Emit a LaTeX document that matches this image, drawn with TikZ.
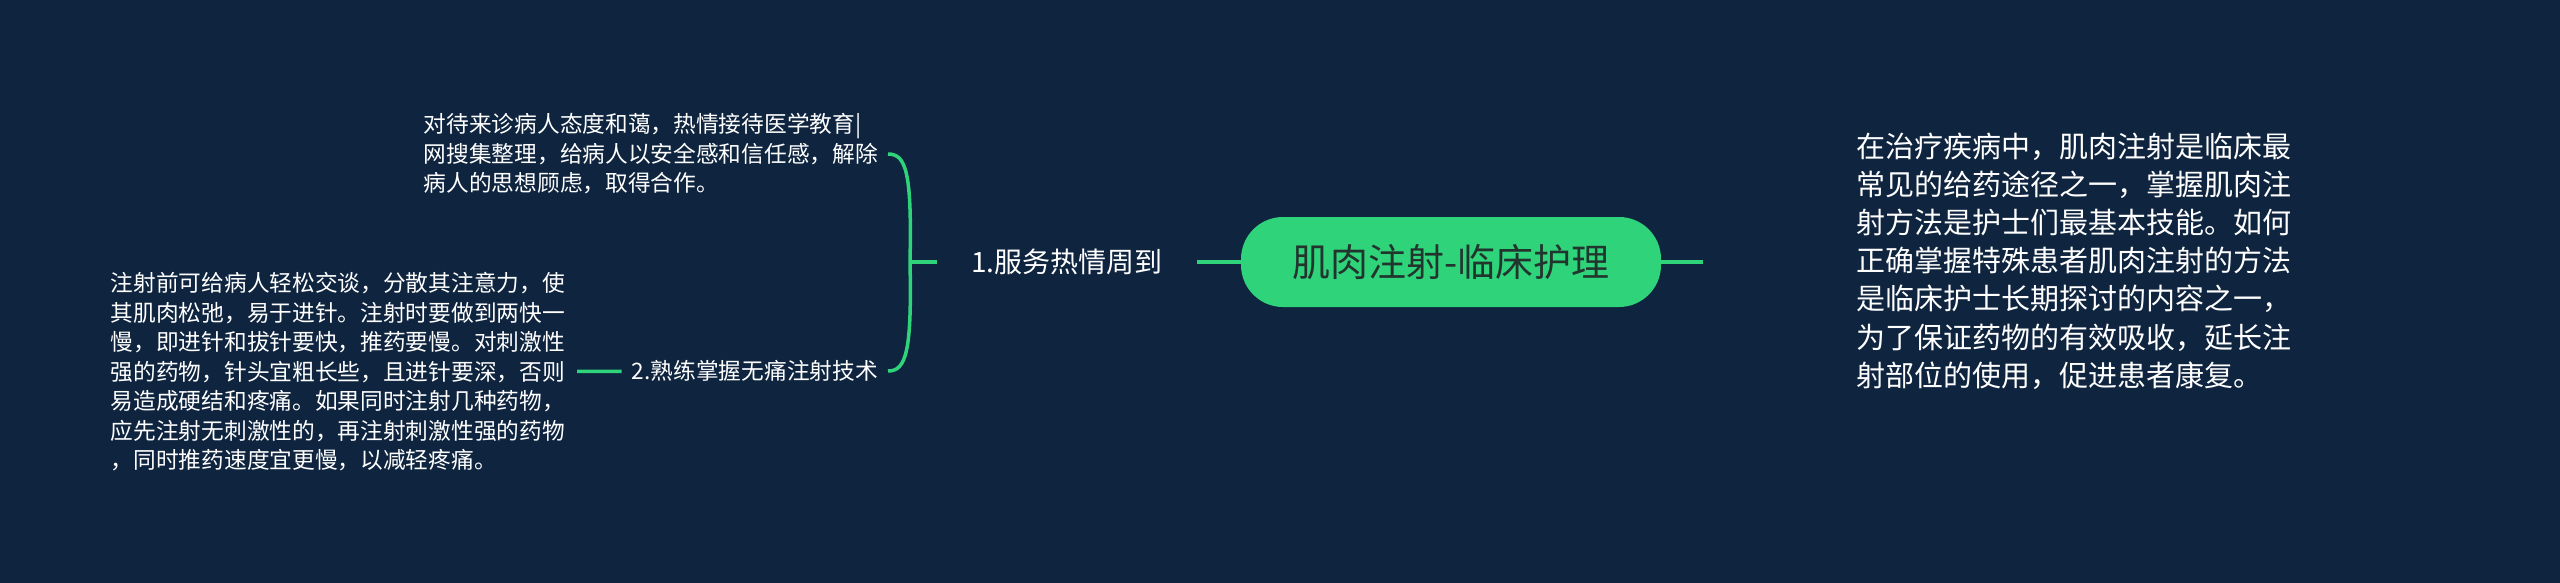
\documentclass[tikz,border=0pt]{standalone}
\usepackage{fontspec}
\setmainfont{Noto Sans CJK SC}
\usepackage{tikz}
\definecolor{bgnavy}{RGB}{14,36,63}
\definecolor{mapgreen}{RGB}{47,212,122}
\definecolor{roottext}{RGB}{34,52,46}

\begin{document}
\begin{tikzpicture}[x=1pt,y=-1pt,
  link/.style={draw=mapgreen, line width=3.5pt},
  leaf/.style={text=white, align=left, inner ysep=4pt, font=\fontsize{22.7pt}{29.5pt}\selectfont}]
\fill[bgnavy] (0,0) rectangle (2560,583);
\useasboundingbox (0,0) rectangle (2560,583);

\node[rectangle, fill=mapgreen, rounded corners=42pt, minimum width=420pt, minimum height=90pt, text=roottext, font=\fontsize{38pt}{44pt}\selectfont](root) at (1451,262){肌肉注射-临床护理};
\node[text=white, inner xsep=34pt, font=\fontsize{28pt}{34pt}\selectfont](serv) at (1067,262){1.服务热情周到};
\node[leaf, anchor=east, inner xsep=10pt](care) at (888,154){对待来诊病人态度和蔼，热情接待医学教育|\\网搜集整理，给病人以安全感和信任感，解除\\病人的思想顾虑，取得合作。};
\node[leaf, anchor=east, inner xsep=10pt](skill) at (888,371){2.熟练掌握无痛注射技术};
\node[leaf, anchor=east, inner xsep=12pt](tips) at (577,372){注射前可给病人轻松交谈，分散其注意力，使\\其肌肉松弛，易于进针。注射时要做到两快一\\慢，即进针和拔针要快，推药要慢。对刺激性\\强的药物，针头宜粗长些，且进针要深，否则\\易造成硬结和疼痛。如果同时注射几种药物，\\应先注射无刺激性的，再注射刺激性强的药物\\，同时推药速度宜更慢，以减轻疼痛。};
\node[text=white, align=left, anchor=west, inner xsep=10pt, font=\fontsize{29pt}{38.2pt}\selectfont](intro) at (1846,261){在治疗疾病中，肌肉注射是临床最\\常见的给药途径之一，掌握肌肉注\\射方法是护士们最基本技能。如何\\正确掌握特殊患者肌肉注射的方法\\是临床护士长期探讨的内容之一，\\为了保证药物的有效吸收，延长注\\射部位的使用，促进患者康复。};

\coordinate (fork) at (910,262);
\coordinate (tail) at (1703,262);

\draw[link] (root) -- (tail);
\draw[link] (serv) -- (root);
\draw[link] (serv.west) -- (fork);
\draw[link] (fork) .. controls (912,172) and (906,154) .. (care.east);
\draw[link] (fork) .. controls (912,352) and (906,371) .. (skill.east);
\draw[link] (tips) -- (skill);

\end{tikzpicture}
\end{document}
